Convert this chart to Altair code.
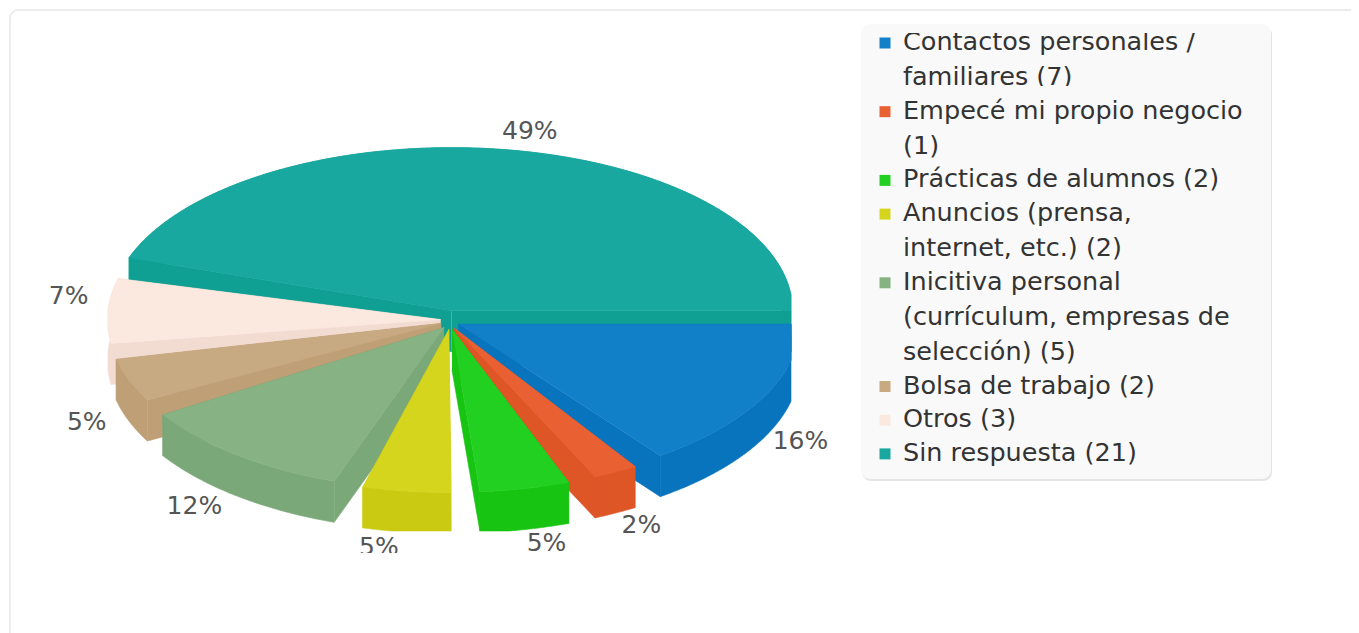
import math
import altair as alt
import pandas as pd

# ---------- data ----------
categories = ["Contactos personales / familiares", "Empecé mi propio negocio", "Prácticas de alumnos",
              "Anuncios (prensa, internet, etc.)", "Inicitiva personal (currículum, empresas de selección)",
              "Bolsa de trabajo", "Otros", "Sin respuesta"]
counts = [7, 1, 2, 2, 5, 2, 3, 21]
percent_labels = ["16%", "2%", "5%", "5%", "12%", "5%", "7%", "49%"]
legend_lines = [["Contactos personales /", "familiares (7)"], ["Empecé mi propio negocio", "(1)"],
                ["Prácticas de alumnos (2)"], ["Anuncios (prensa,", "internet, etc.) (2)"],
                ["Inicitiva personal", "(currículum, empresas de", "selección) (5)"],
                ["Bolsa de trabajo (2)"], ["Otros (3)"], ["Sin respuesta (21)"]]
top_colors = ["#1280C8", "#E96132", "#22D022", "#D4D51C", "#87B283", "#C7A982", "#FBE8DF", "#18A8A0"]
side_colors = ["#0874BE", "#DE5526", "#18C412", "#CBCA12", "#7BA878", "#BF9F76", "#F2DCD2", "#0F9F93"]
label_nudges = [(-2, 16), (5, 0), (12, -4), (-21, -3), (-10, 4), (7, 21), (13, -14), (15, 0)]

# ---------- pie geometry ----------
W, H = 1343, 625
CX, CY, RX, RX_LEFT, RY, DEPTH, EXPLODE, GAP = 450, 320, 341, 333, 163, 41, 9.5, 4.3
XMIN, XMAX, YMAX = 108, 791, 531
unit = (360 - 7 * GAP) / sum(counts)

slices, a = [], 0.0
for i, c in enumerate(counts):
    sweep = c * unit
    mid = math.radians(a + sweep / 2)
    slices.append(dict(i=i, start=a, end=a + sweep, mid=mid,
                       ax=CX + EXPLODE * math.cos(mid), ay=CY + EXPLODE * math.sin(mid)))
    a += sweep + GAP


def rim(s, deg):
    t = math.radians(deg)
    rx = RX if (s["i"] == 7 or math.cos(t) >= 0) else RX_LEFT
    return s["ax"] + rx * math.cos(t), s["ay"] + RY * math.sin(t)


def arc(s):
    n = max(4, int(s["end"] - s["start"]) * 2)
    return [rim(s, s["start"] + (s["end"] - s["start"]) * k / n) for k in range(n + 1)]


rows = []


def poly(name, pts, color):
    for k, (x, y) in enumerate(pts):
        rows.append(dict(x=min(max(x, XMIN), XMAX), y=min(y, YMAX), k=k, color=color, pid=name))


draw_order = [7, 0, 1, 2, 6, 5, 4, 3]
for idx in draw_order:
    s = slices[idx]
    pts = arc(s)
    apex = (s["ax"], s["ay"])
    for tag, p in (("a", pts[0]), ("b", pts[-1])):
        poly(f"{idx}{tag}", [apex, p, (p[0], p[1] + DEPTH), (apex[0], apex[1] + DEPTH)], side_colors[idx])
    poly(f"{idx}c", pts + [(x, y + DEPTH) for x, y in reversed(pts)], side_colors[idx])
    poly(f"{idx}t", [apex] + pts, top_colors[idx])
pie_df = pd.DataFrame(rows)

x_scale = alt.Scale(domain=[8, 8 + W], nice=False, zero=False)
y_scale = alt.Scale(domain=[8 + H, 8], nice=False, zero=False)
X = alt.X("x:Q", scale=x_scale, axis=None)
Y = alt.Y("y:Q", scale=y_scale, axis=None)


def rect(x, x2, y, y2, fill, stroke=None, sw=0, radius=0):
    df = pd.DataFrame([dict(x=x, x2=x2, y=y, y2=y2)])
    kw = dict(fill=fill, cornerRadius=radius, clip=True)
    if stroke:
        kw.update(stroke=stroke, strokeWidth=sw)
    return alt.Chart(df).mark_rect(**kw).encode(X, alt.X2("x2:Q"), Y, alt.Y2("y2:Q"))


pie = alt.Chart(pie_df).mark_line(strokeWidth=0.6, interpolate="linear").encode(
    X, Y, order="k:Q", detail="pid:N",
    fill=alt.Fill("color:N", scale=None),
    stroke=alt.Stroke("color:N", scale=None),
)

# percent labels
lab = []
for s, t, (nx, ny) in zip(slices, percent_labels, label_nudges):
    b = 232 if math.sin(s["mid"]) > 0 else 192
    lab.append(dict(x=CX + 395 * math.cos(s["mid"]) + nx, y=CY + b * math.sin(s["mid"]) + ny, t=t))
labels = alt.Chart(pd.DataFrame(lab)).mark_text(
    font="DejaVu Sans", fontSize=25, color="#555555", align="center", baseline="middle"
).encode(X, Y, text="t:N")

# legend
ltext, lmark, y = [], [], 42.0
for i, lines in enumerate(legend_lines):
    lmark.append(dict(x=885, y=y + 1, color=top_colors[i]))
    for j, line in enumerate(lines):
        ltext.append(dict(x=903, y=y, t=line))
        y += 35 if j < len(lines) - 1 else 33.7
legend_text = alt.Chart(pd.DataFrame(ltext)).mark_text(
    font="DejaVu Sans", fontSize=25.5, color="#333333", align="left", baseline="middle"
).encode(X, Y, text="t:N")
legend_marks = alt.Chart(pd.DataFrame(lmark)).mark_square(size=121, opacity=1).encode(
    X, Y, fill=alt.Fill("color:N", scale=None), stroke=alt.value(None))

chart = alt.layer(
    rect(10, 1400, 10, 660, "#ffffff", "#ececec", 2, 8),
    pie,
    labels,
    rect(340, 420, 553, 580, "#ffffff"),
    rect(490, 570, 139, 147, "#ffffff"),
    rect(862, 1272, 26, 481, "#e4e4e4", radius=9),
    rect(861, 1271, 24, 479, "#f9f9f9", radius=9),
    legend_marks,
    legend_text,
    rect(895, 1265, 24, 33, "#f9f9f9"),
    rect(895, 1265, 86, 94, "#f9f9f9"),
).properties(
    width=W, height=H, padding=0, autosize=alt.AutoSizeParams(type="none"),
    background="#ffffff",
).configure_view(stroke=None)

chart.save("out.html", embed_options={"renderer": "svg", "actions": False})
